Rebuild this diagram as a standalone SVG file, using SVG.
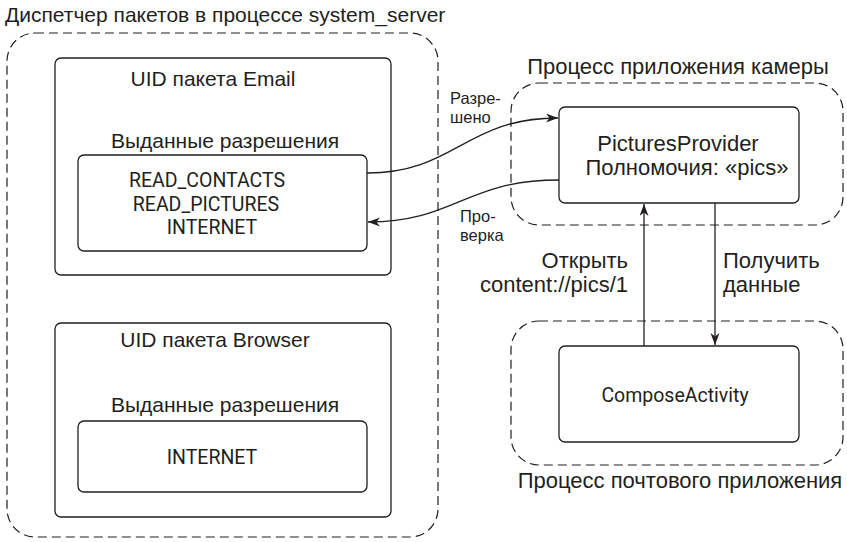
<svg xmlns="http://www.w3.org/2000/svg" width="847" height="542" viewBox="0 0 847 542">
<style>
text { font-family: "Liberation Sans", Arial, sans-serif; fill: #231f20; }
.lbl { font-size: 21px; }
.lbl2 { font-size: 22px; }
.sm { font-size: 16.5px; }
.my { font-family: Roboto, "Liberation Sans", sans-serif; font-size: 19.5px; }
.c { text-anchor: middle; }
.e { text-anchor: end; }
.dash { fill: none; stroke: #231f20; stroke-width: 1.2; stroke-dasharray: 9 5; }
.box { fill: #fff; stroke: #231f20; stroke-width: 1.3; }
.conn { fill: none; stroke: #231f20; stroke-width: 1.3; }
</style>
<defs>
<marker id="arr" markerUnits="userSpaceOnUse" markerWidth="14" markerHeight="10" refX="12" refY="4.5" orient="auto">
<path d="M0,0 L12,4.5 L0,9 L3.5,4.5 z" fill="#231f20"/>
</marker>
</defs>
<rect width="847" height="542" fill="#fff"/>

<g id="package-manager">
<rect class="dash" x="7" y="33" width="431" height="504" rx="28" ry="28"/>
<text class="lbl" x="5" y="22">Диспетчер пакетов в процессе system_server</text>
</g>

<g id="email-uid">
<rect class="box" x="55" y="58" width="336" height="217" rx="6" ry="6"/>
<text class="lbl c" x="213" y="86">UID пакета Email</text>
<text class="lbl c" x="225" y="148">Выданные разрешения</text>
</g>
<g id="email-perms">
<rect class="box" x="78" y="155" width="289" height="96" rx="6" ry="6"/>
<text class="my c" x="207" y="187">READ_CONTACTS</text>
<text class="my c" x="206" y="211">READ_PICTURES</text>
<text class="my c" x="212" y="234">INTERNET</text>
</g>

<g id="browser-uid">
<rect class="box" x="55" y="323" width="336" height="194" rx="6" ry="6"/>
<text class="lbl c" x="215" y="347">UID пакета Browser</text>
<text class="lbl c" x="225" y="412">Выданные разрешения</text>
</g>
<g id="browser-perms">
<rect class="box" x="78" y="421" width="289" height="71" rx="6" ry="6"/>
<text class="my c" x="212" y="464">INTERNET</text>
</g>

<g id="camera-process">
<rect class="dash" x="511" y="83" width="332" height="142" rx="28" ry="28"/>
<text class="lbl2 c" x="678" y="74">Процесс приложения камеры</text>
</g>
<g id="pictures-provider">
<rect class="box" x="559" y="107" width="240" height="96" rx="6" ry="6"/>
<text class="lbl2 c" x="678" y="151">PicturesProvider</text>
<text class="lbl2 c" x="687" y="175">Полномочия: «pics»</text>
</g>

<g id="mail-process">
<rect class="dash" x="511" y="321" width="332" height="144" rx="28" ry="28"/>
<text class="lbl2 c" x="680" y="488">Процесс почтового приложения</text>
</g>
<g id="compose-activity">
<rect class="box" x="559" y="346" width="240" height="96" rx="6" ry="6"/>
<text class="my c" x="675" y="402">ComposeActivity</text>
</g>

<g id="connectors">
<path class="conn" d="M367,173 C455,173 465,118 558,118" marker-end="url(#arr)"/>
<path class="conn" d="M559,180 C465,180 455,222 368,222" marker-end="url(#arr)"/>
<path class="conn" d="M644,346 L644,204" marker-end="url(#arr)"/>
<path class="conn" d="M715,203 L715,345" marker-end="url(#arr)"/>
<text class="sm" x="450" y="104">Разре-</text>
<text class="sm" x="450" y="123">шено</text>
<text class="sm" x="460" y="222">Про-</text>
<text class="sm" x="460" y="241">верка</text>
<text class="lbl2 e" x="628" y="268">Открыть</text>
<text class="lbl2 e" x="628" y="292">content://pics/1</text>
<text class="lbl2" x="723" y="268">Получить</text>
<text class="lbl2" x="723" y="292">данные</text>
</g>
</svg>
